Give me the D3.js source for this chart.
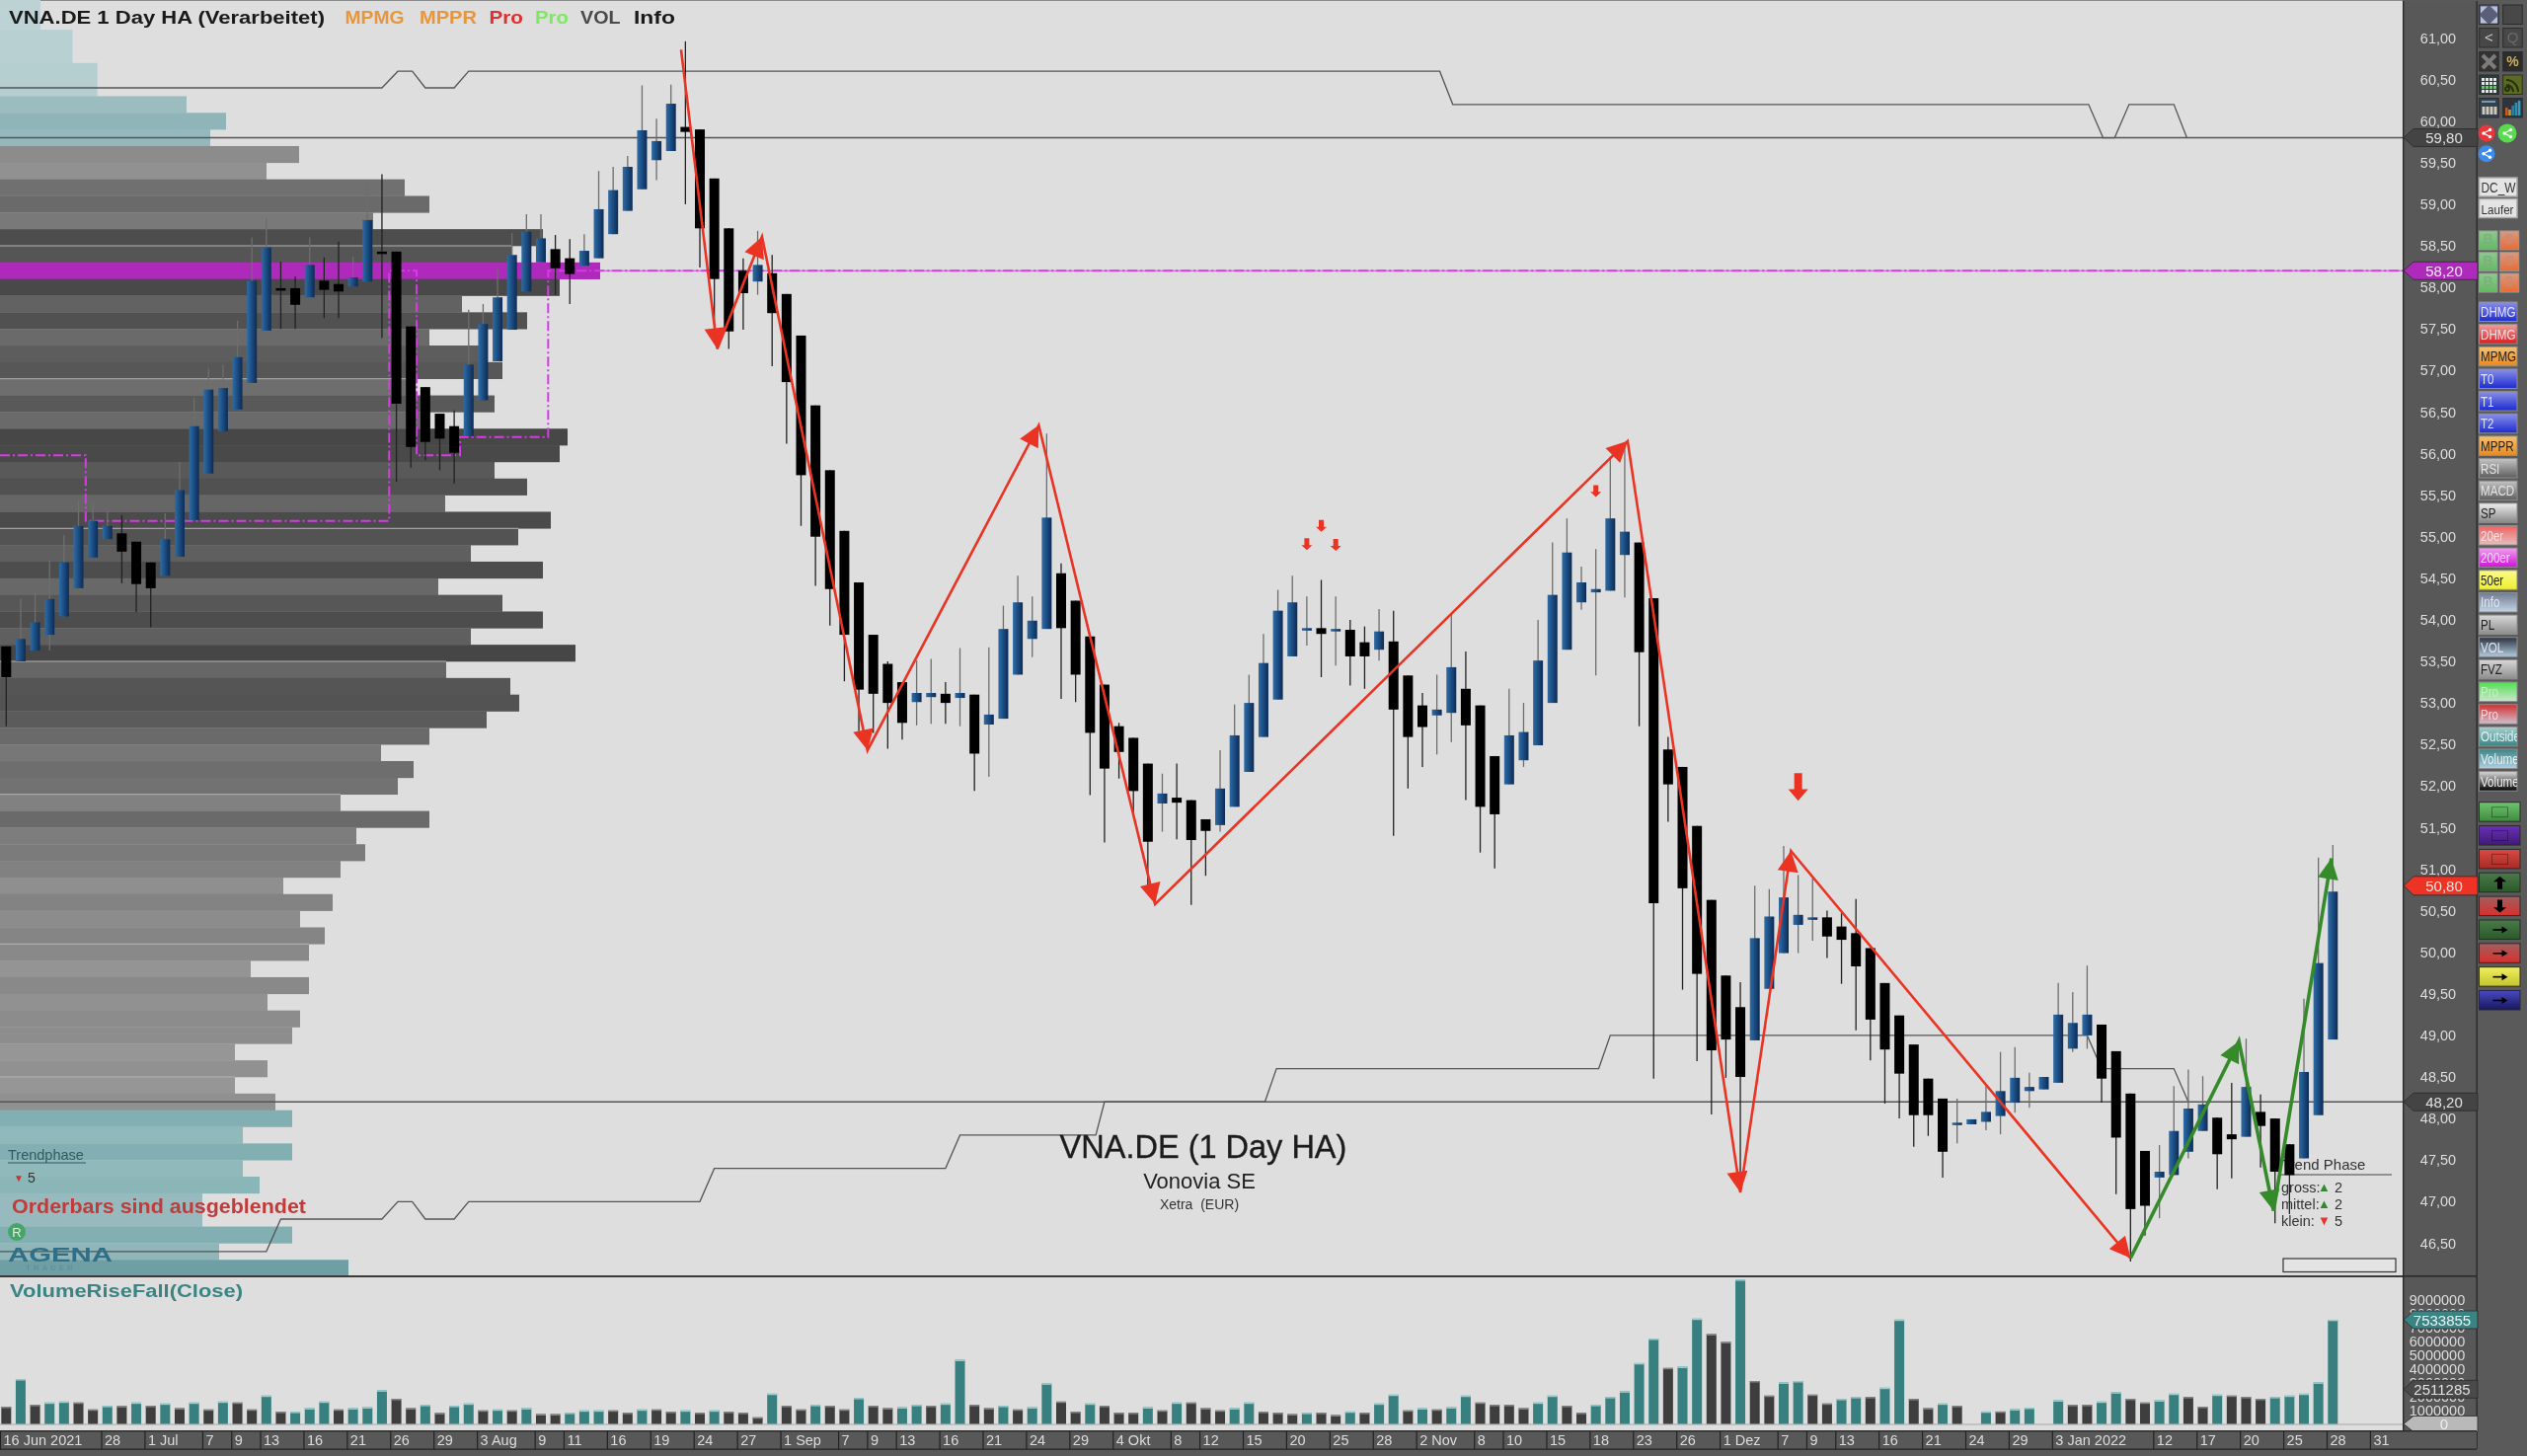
<!DOCTYPE html>
<html><head><meta charset="utf-8">
<script src="https://cdn.jsdelivr.net/npm/d3@7/dist/d3.min.js"></script>
<style>
html,body{margin:0;padding:0;background:#5a5a5a;overflow:hidden}
svg{display:block;filter:blur(0.45px)}
text{font-family:"Liberation Sans",Arial,sans-serif}
</style></head><body><svg id="c" width="2560" height="1475"></svg>
<script>
// ---------- candles (Heikin-Ashi, EUR), one entry per trading day ----------
const opens=[53.68,53.50,53.63,53.82,54.04,54.38,54.75,54.97,55.04,54.94,
54.69,54.53,54.76,55.20,55.76,56.27,56.53,56.85,57.48,57.99,
57.99,57.88,58.08,58.04,58.01,58.07,58.43,58.43,57.53,56.80,
56.48,56.33,56.21,56.64,57.11,57.49,57.95,58.30,58.46,58.35,
58.26,58.35,58.64,58.92,59.18,59.53,59.64,59.93,59.90,59.31,
58.71,58.20,58.07,58.17,57.92,57.42,56.58,55.80,55.07,54.45,
53.82,53.47,53.25,53.01,53.07,53.11,53.06,53.10,52.74,52.81,
53.34,53.77,53.89,54.56,54.23,53.80,53.22,52.72,52.58,52.27,
51.79,51.86,51.83,51.60,51.53,51.75,52.17,52.59,53.04,53.56,
53.88,53.90,53.86,53.88,53.73,53.64,53.74,53.33,52.97,52.85,
52.88,53.17,52.97,52.36,52.02,52.31,52.49,53.00,53.64,54.21,
54.33,54.35,54.78,54.93,54.26,52.44,52.23,51.52,50.63,49.72,
49.34,48.94,49.56,49.99,50.33,50.39,50.42,50.31,50.23,50.05,
49.63,49.24,48.89,48.48,48.24,47.92,47.93,47.96,48.03,48.19,
48.33,48.35,48.43,48.84,49.00,49.13,48.81,48.30,47.61,47.29,
47.32,47.60,47.85,48.01,47.81,47.78,48.08,48.00,47.69,47.52,
48.04,48.95];
const closes=[53.31,53.77,53.97,54.25,54.69,55.13,55.19,55.13,54.82,54.43,
54.38,54.97,55.56,56.33,56.77,56.79,57.16,58.08,58.48,57.97,
57.79,58.27,57.97,57.95,58.12,58.81,58.41,56.60,56.08,56.14,
56.18,56.01,57.07,57.56,57.88,58.39,58.67,58.59,58.23,58.16,
58.44,58.94,59.17,59.45,59.89,59.76,60.21,59.87,58.71,58.10,
57.47,57.93,58.27,57.69,56.86,55.74,55.00,54.37,53.82,53.16,
53.11,53.00,52.76,53.12,53.12,53.00,53.12,52.39,52.86,53.89,
54.21,53.99,55.23,53.90,53.34,52.64,52.21,52.41,51.94,51.33,
51.91,51.80,51.35,51.46,51.97,52.61,53.00,53.48,54.11,54.21,
53.90,53.83,53.89,53.56,53.56,53.86,52.92,52.59,52.71,52.92,
53.43,52.73,51.75,51.66,52.61,52.65,53.51,54.30,54.81,54.45,
54.37,55.22,55.06,53.61,50.59,52.02,50.77,49.74,48.82,48.95,
48.50,50.17,50.43,50.66,50.45,50.42,50.19,50.15,49.83,49.19,
48.83,48.54,48.04,48.04,47.60,47.95,47.99,48.08,48.33,48.49,
48.38,48.50,49.25,49.15,49.25,48.48,47.77,46.91,46.95,47.36,
47.85,48.12,48.17,47.57,47.75,48.38,47.91,47.36,47.32,48.56,
49.87,50.73];
const highs=[53.68,54.25,54.33,54.71,55.02,55.44,55.40,55.31,55.26,54.94,
54.69,55.28,55.90,56.67,57.03,57.07,57.60,58.60,58.83,58.31,
58.13,58.60,58.36,58.55,58.37,59.25,59.36,58.43,57.53,56.80,
56.48,56.52,57.73,57.80,58.24,58.65,58.88,58.88,58.63,58.58,
58.64,59.40,59.45,59.58,60.43,60.03,60.44,60.96,59.90,59.31,
58.71,58.35,58.68,58.39,57.92,57.42,56.58,55.80,55.07,54.45,
53.82,53.50,53.25,53.51,53.53,53.25,53.66,53.10,53.67,54.17,
54.53,54.28,56.24,54.68,54.23,53.80,53.22,52.76,52.58,52.27,
52.15,52.27,51.83,51.60,52.43,52.98,53.34,53.83,54.36,54.53,
54.28,54.48,54.28,54.00,53.92,54.13,54.11,53.33,53.12,53.34,
54.07,53.62,52.97,52.36,53.17,53.00,54.00,54.93,55.22,54.64,
54.85,55.96,56.11,54.93,54.26,52.59,52.23,51.52,50.63,49.72,
49.64,50.80,50.76,51.28,50.93,50.89,50.50,50.47,50.64,50.05,
49.63,49.24,48.89,48.48,48.24,48.24,47.99,48.39,48.80,48.86,
48.55,48.50,49.63,49.52,49.84,49.13,48.81,48.30,47.61,47.68,
48.39,48.59,48.51,48.01,48.43,48.96,48.29,48.00,47.69,49.44,
51.14,51.29];
const lows=[52.72,53.50,53.63,53.63,54.04,54.38,54.75,54.97,54.44,54.09,
53.91,54.53,54.76,55.20,55.76,56.27,56.53,56.85,57.48,57.50,
57.50,57.88,57.63,57.63,58.01,58.07,57.39,55.66,55.83,55.92,
55.80,55.64,56.21,56.64,57.11,57.49,57.95,58.30,57.91,57.80,
58.26,58.35,58.64,58.92,59.18,59.29,59.64,59.00,58.24,57.49,
57.26,57.49,57.91,57.05,56.12,55.13,54.41,53.93,53.26,52.66,
52.64,52.45,52.56,52.73,52.75,52.75,52.72,51.94,52.11,52.81,
53.34,53.55,53.89,53.05,53.01,51.89,51.32,52.09,51.68,50.79,
51.45,51.36,50.57,50.92,51.45,51.75,52.17,52.59,53.04,53.56,
53.69,53.31,53.45,53.21,53.17,53.51,51.40,51.97,52.23,52.38,
52.53,51.83,51.20,51.01,52.02,52.23,52.49,53.00,53.64,54.12,
53.33,54.35,54.27,52.72,48.48,51.57,49.55,48.69,48.05,48.49,
47.11,48.94,49.56,49.99,49.99,50.14,49.93,49.62,49.06,48.70,
48.18,48.00,47.66,47.79,47.29,47.70,47.93,47.86,47.81,48.07,
48.13,48.35,48.43,48.80,48.84,48.19,47.09,46.28,46.59,46.80,
47.32,47.52,47.85,47.15,47.28,47.78,47.41,46.74,46.85,47.52,
48.04,48.95];
// ---------- volume in shares (millions), and rise flag ----------
const volumesM=[1.24,3.24,1.38,1.55,1.62,1.55,1.05,1.31,1.29,1.55,1.31,1.48,1.14,1.55,1.05,1.62,1.55,1.05,2.05,.88,
.88,1.14,1.62,1.05,1.14,1.21,2.43,1.81,1.14,1.38,.79,1.31,1.48,.98,1.05,.98,1.14,.71,.71,.81,
.98,.98,.98,.81,1.05,1.05,.88,.98,.81,.98,.88,.81,.48,2.19,1.31,1.05,1.38,1.31,1.05,1.88,
1.31,1.14,1.21,1.38,1.31,1.48,4.64,1.38,1.14,1.31,1.05,1.21,2.93,1.62,.88,1.48,1.31,.81,.81,1.21,
.98,1.55,1.55,1.14,.98,1.14,1.55,.88,.81,.71,.81,.81,.64,.90,.81,1.48,2.12,.98,1.14,1.05,
1.21,2.05,1.55,1.38,1.38,1.14,1.55,2.05,1.31,.81,1.38,1.95,2.36,4.40,6.17,4.05,4.14,7.62,6.50,5.93,
10.45,3.10,2.05,3.00,3.10,2.12,1.48,1.81,1.95,1.95,2.62,7.55,1.81,1.14,1.48,1.31,0,.90,.90,1.07,
1.17,0,1.71,1.38,1.38,1.62,2.29,1.81,1.55,1.71,2.19,1.95,1.24,2.12,2.05,1.95,1.81,1.95,2.05,2.19,
3.00,7.53855];
const volumeRise=[0,1,0,1,1,0,0,1,0,1,0,1,0,1,0,1,0,0,1,0,
1,1,1,0,1,1,1,0,0,1,0,1,1,0,1,0,1,0,0,1,
1,1,0,0,1,0,0,1,0,1,0,0,0,1,0,0,1,0,0,1,
0,0,1,1,0,1,1,0,0,1,0,1,1,0,0,1,0,0,0,1,
0,1,0,0,0,1,1,0,0,0,1,0,0,1,0,1,1,0,1,0,
1,1,0,0,0,0,1,1,0,0,1,1,1,1,1,0,1,1,0,0,
1,0,0,1,1,0,0,1,1,0,1,1,0,0,1,0,0,1,0,1,
1,0,1,0,0,1,1,0,0,1,1,0,0,1,0,0,0,1,1,1,
1,1];
// ---------- volume profile ----------
const profilePrices=[61.4,61.2,61.0,60.8,60.6,60.4,60.2,60.0,59.8,59.6,59.4,59.2,59.0,58.8,58.6,58.4,58.2,58.0,57.8,57.6,57.4,57.2,57.0,56.8,56.6,56.4,56.2,56.0,55.8,55.6,55.4,55.2,55.0,54.8,54.6,54.4,54.2,54.0,53.8,53.6,53.4,53.2,53.0,52.8,52.6,52.4,52.2,52.0,51.8,51.6,51.4,51.2,51.0,50.8,50.6,50.4,50.2,50.0,49.8,49.6,49.4,49.2,49.0,48.8,48.6,48.4,48.2,48.0,47.8,47.6,47.4,47.2,47.0,46.8,46.6,46.4,46.2];
const profileVolumes=[41,41,73.5,73.5,98.7,98.7,189,229,213,303,270,410,435,378,550,518,608,567,468,534,435,485,509,420,501,435,575,567,501,534,451,558,525,477,550,444,509,550,477,583,452,517,526,493,435,386,419,403,345,435,361,370,345,287,337,304,329,313,254,313,271,304,296,238,271,238,279,296,246,296,246,263,205,205,296,222,353];
const profileSeams=[58.5,56.9,55.1,53.5,51.9,50.1,48.5];
const valueAreaHigh=59.7, valueAreaLow=48.1, pointOfControl=58.2;
// ---------- levels ----------
const upperBandBars=[-0.43,26,27.1,28.1,29,31,32,99.2,100.1,144.1,145.1,145.9,146.9,150,150.9];
const upperBandPrices=[60.4,60.4,60.6,60.6,60.4,60.4,60.6,60.6,60.2,60.2,59.8,59.8,60.2,60.2,59.8];
const lowerBandBars=[-0.43,18,19,26,27.1,28.1,29,31,32,48,49,65,66,75.4,76,87.1,87.9,110.2,111,144,145,150,151];
const lowerBandPrices=[46.4,46.4,46.79,46.79,47,47,46.79,46.79,47,47,47.4,47.4,47.8,47.8,48.2,48.2,48.6,48.6,49,49,48.6,48.6,48.2];
const magentaBars=[-0.43,5.5,5.5,26.5,26.5,28.4,28.4,31.4,31.4,37.5,37.5,166];
const magentaPrices=[55.98,55.98,55.19,55.19,58.2,58.2,55.98,55.98,56.2,56.2,58.2,58.2];
const levelLines=[59.8,48.2];
// ---------- zigzag ----------
const redZigBars=[46.7,49.2,52.3,59.6,71.45,79.5,112.2,120,123.5,147];
const redZigPrices=[60.86,57.26,58.61,52.43,56.34,50.58,56.15,47.11,51.22,46.32];
const greenZigBars=[147,154.5,156.9,160.9];
const greenZigPrices=[46.32,48.93,46.89,51.13];
const smallSignalBars=[90,91,92,110], smallSignalPrices=[54.91,55.13,54.90,55.55];
const bigSignalBars=[124], bigSignalPrices=[51.99];
// ---------- axes ----------
const priceTicks=[61,60.5,60,59.5,59,58.5,58,57.5,57,56.5,56,55.5,55,54.5,54,53.5,53,52.5,52,51.5,51,50.5,50,49.5,49,48.5,48,47.5,47,46.5];
const volumeTicks=[9e6,8e6,7e6,6e6,5e6,4e6,3e6,2e6,1e6];
const timeTickBars=[0,7,10,14,16,18,21,24,27,30,33,37,39,42,45,48,51,54,58,60,62,65,68,71,74,77,81,83,86,89,92,95,98,102,104,107,110,113,116,119,123,125,127,130,133,136,139,142,149,152,155,158,161,164];
const timeTickLabels=["16 Jun 2021","28","1 Jul","7","9","13","16","21","26","29","3 Aug","9","11","16","19","24","27","1 Sep","7","9","13","16","21","24","29","4 Okt","8","12","15","20","25","28","2 Nov","8","10","15","18","23","26","1 Dez","7","9","13","16","21","24","29","3 Jan 2022","12","17","20","25","28","31"];
const buttonLabels=["DHMG","DHMG","MPMG","T0","T1","T2","MPPR","RSI","MACD","SP","20er","200er","50er","Info","PL","VOL","FVZ","Pro","Pro","Outside","Volume","Volume"];

// ---------- layout ----------
const W=2560,H=1475,panelR=2434,axisR=2509,mainB=1292,volT=1294,volB=1450,timeB=1468;
const x=d3.scaleLinear([0,161],[6.3,2363.3]);
const xTick=d3.scaleLinear([0,161],[0,2357]);
const y=d3.scaleLinear([61,46.5],[38.5,1259.4]);
const v=d3.scaleLinear([0,9e6],[1442.5,1316.5]);
const pw=d3.scaleLinear([0,608],[0,608]);
const svg=d3.select("#c");
const defs=svg.append("defs");
function grad(id,stops,horizontal){
  const g=defs.append("linearGradient").attr("id",id).attr("x1",0).attr("y1",0).attr("x2",horizontal?1:0).attr("y2",horizontal?0:1);
  stops.forEach((c,i)=>g.append("stop").attr("offset",i/(stops.length-1)).attr("stop-color",c));
  return `url(#${id})`;
}
const blueBody=grad("blue",["#2f6ca4","#1a4c82","#0e2a52"],true);
defs.append("clipPath").attr("id","main").append("rect").attr("x",0).attr("y",0).attr("width",panelR).attr("height",mainB);

svg.append("rect").attr("width",W).attr("height",H).attr("fill","#5a5a5a");
svg.append("rect").attr("x",0).attr("y",1).attr("width",panelR).attr("height",volB-1).attr("fill","#dedede");
svg.append("rect").attr("width",panelR).attr("height",1).attr("fill","#8a8a8a");

const main=svg.append("g").attr("clip-path","url(#main)");
// profile
const idx=profilePrices.map((_,i)=>i);
const rowH=Math.abs(y(0.2)-y(0));
const teal=d3.scaleLinear([41,98,229,246,296,353],["#bcd2d4","#b5cfd1","#8fb5b8","#90b9bb","#82b0b2","#6e9fa5"]);
const gray=d3.scaleLinear([234,303,435,550,608],["#979797","#8c8c8c","#6a6a6a","#4d4d4d","#404040"]);
main.append("g").selectAll("rect").data(idx).join("rect")
 .attr("x",0).attr("y",i=>y(profilePrices[i])-rowH/2).attr("height",rowH+.3)
 .attr("width",i=>pw(profileVolumes[i]))
 .attr("fill",i=>{const p=profilePrices[i];
   if(p===pointOfControl) return "#ae2abb";
   return (p>valueAreaHigh||p<valueAreaLow)?teal(profileVolumes[i]):gray(profileVolumes[i]);});
main.append("g").selectAll("line").data(profileSeams).join("line")
 .attr("x1",0).attr("y1",d=>y(d)).attr("y2",d=>y(d))
 .attr("x2",d=>{let k=d3.bisectLeft(profilePrices.map(p=>-p),-(d-0.1));return pw(profileVolumes[k]);})
 .attr("stroke","#b4b4b4").attr("stroke-width",1);
// level & band lines
const ln=(bars,prices)=>d3.line().x(i=>x(bars[i])).y(i=>y(prices[i]))(bars.map((_,i)=>i));
main.append("path").attr("d",ln(upperBandBars,upperBandPrices)).attr("fill","none").attr("stroke","#555").attr("stroke-width",1.3);
main.append("path").attr("d",ln(lowerBandBars,lowerBandPrices)).attr("fill","none").attr("stroke","#555").attr("stroke-width",1.3);
main.selectAll("line.lvl").data(levelLines).join("line").attr("class","lvl").attr("x1",0).attr("x2",panelR)
 .attr("y1",d=>y(d)).attr("y2",d=>y(d)).attr("stroke","#555").attr("stroke-width",1.4);
main.append("line").attr("x1",608).attr("x2",panelR).attr("y1",y(58.2)).attr("y2",y(58.2)).attr("stroke","#c44bd4").attr("stroke-width",1);
main.append("path").attr("d",ln(magentaBars,magentaPrices)).attr("fill","none").attr("stroke","#d83ae8").attr("stroke-width",2).attr("stroke-dasharray","10 3 2 3");

// texts under candles
const t=(s,px,py,size,fill,extra={})=>{const e=svg.append("text").attr("x",px).attr("y",py).attr("font-size",size).attr("fill",fill).text(s);
 Object.entries(extra).forEach(([k,val])=>e.attr(k,val));return e;};
const T=(s,px,py,size,fill,extra={})=>{const e=main.append("text").attr("x",px).attr("y",py).attr("font-size",size).attr("fill",fill).text(s);
 Object.entries(extra).forEach(([k,val])=>e.attr(k,val));return e;};
T("VNA.DE (1 Day HA)",1219,1173,32.5,"#1c1c1c",{"text-anchor":"middle","stroke":"#1c1c1c","stroke-width":.35});
T("Vonovia SE",1215,1204,22,"#222",{"text-anchor":"middle"});
T("Xetra  (EUR)",1215,1225,14,"#333",{"text-anchor":"middle","xml:space":"preserve"});
T("Trend Phase",2311,1185,15,"#333");
main.append("line").attr("x1",2311).attr("x2",2423).attr("y1",1190).attr("y2",1190).attr("stroke","#444").attr("stroke-width",1.2);
T("gross:",2311,1208,14.5,"#333");T("\u25B2",2348,1207,13,"#2f8a2f");T("2",2365,1208,14.5,"#333");
T("mittel:",2311,1225,14.5,"#333");T("\u25B2",2348,1224,13,"#2f8a2f");T("2",2365,1225,14.5,"#333");
T("klein:",2311,1242,14.5,"#333");T("\u25BC",2348,1241,13,"#e8322a");T("5",2365,1242,14.5,"#333");
main.append("rect").attr("x",2313).attr("y",1275).attr("width",114).attr("height",13.5).attr("fill","#e4e4e4").attr("stroke","#333").attr("stroke-width",1.2);

// left overlay
T("Trendphase",8,1174.5,14.5,"#2f5c5e");
main.append("line").attr("x1",8).attr("x2",87).attr("y1",1178).attr("y2",1178).attr("stroke","#2f5c5e");
T("\u25BC",14,1197,10,"#c8352f");T("5",28,1198,14,"#333");
const sansB={"font-family":"DejaVu Sans","font-weight":700,"lengthAdjust":"spacingAndGlyphs"};
T("Orderbars sind ausgeblendet",12,1229,20,"#c23a3a",{...sansB,"textLength":298});
main.append("circle").attr("cx",17).attr("cy",1248).attr("r",9).attr("fill","#47a56a");
T("R",17,1253,13,"#d9f0de",{"text-anchor":"middle"});
T("AGENA",8,1278,21,"#2f6f88",{"font-weight":700,"textLength":106,"lengthAdjust":"spacingAndGlyphs"});
T("TRADER",26,1287,8,"#5b8a96",{"letter-spacing":"3px"});

// candles
const bars=svg.append("g").attr("clip-path","url(#main)");
const days=opens.map((_,i)=>i);
const up=i=>closes[i]>=opens[i];
bars.append("g").selectAll("line").data(days).join("line")
 .attr("x1",i=>x(i)).attr("x2",i=>x(i)).attr("y1",i=>y(highs[i])).attr("y2",i=>y(lows[i]))
 .attr("stroke",i=>up(i)?"#6e6e6e":"#222").attr("stroke-width",1.3);
bars.append("g").selectAll("rect").data(days).join("rect")
 .attr("x",i=>x(i)-5).attr("width",10)
 .attr("y",i=>Math.min(y(opens[i]),y(closes[i])))
 .attr("height",i=>Math.max(2.5,Math.abs(y(opens[i])-y(closes[i]))))
 .attr("fill",i=>up(i)?blueBody:"#000");

// zigzag with arrow heads
function zig(zb,zp,col,sw,len,half){
  const pts=zb.map((b,i)=>[x(b),y(zp[i])]);
  const g=svg.append("g").attr("clip-path","url(#main)");
  g.append("path").attr("d",d3.line()(pts)).attr("fill","none").attr("stroke",col).attr("stroke-width",sw);
  g.selectAll("polygon").data(d3.range(1,pts.length)).join("polygon").attr("fill",col).attr("points",k=>{
    const [x0,y0]=pts[k-1],[x1,y1]=pts[k];const L=Math.hypot(x1-x0,y1-y0),ux=(x1-x0)/L,uy=(y1-y0)/L;
    const bx=x1-ux*len,by=y1-uy*len;
    return [[x1,y1],[bx-uy*half,by+ux*half],[bx+uy*half,by-ux*half]].join(" ");});
}
zig(redZigBars,redZigPrices,"#ea3323",2.6,21,10.5);
zig(greenZigBars,greenZigPrices,"#358a2a",3.6,21,10.5);
// signal arrows
function downArrow(cx,cy,w,h,stem){const hh=h*.42;return [[cx-stem/2,cy-h/2],[cx+stem/2,cy-h/2],[cx+stem/2,cy+h/2-hh],[cx+w/2,cy+h/2-hh],[cx,cy+h/2],[cx-w/2,cy+h/2-hh],[cx-stem/2,cy+h/2-hh]].join(" ");}
svg.append("g").selectAll("polygon").data(smallSignalBars.map((_,i)=>i)).join("polygon").attr("fill","#ea3323")
 .attr("points",i=>downArrow(x(smallSignalBars[i]),y(smallSignalPrices[i]),11,12,5));
svg.append("g").selectAll("polygon").data(bigSignalBars.map((_,i)=>i)).join("polygon").attr("fill","#ea3323")
 .attr("points",i=>downArrow(x(bigSignalBars[i]),y(bigSignalPrices[i]),20,28,8));

// title strip
t("VNA.DE 1 Day HA (Verarbeitet)",9,23.5,18,"#1a1a1a",{...sansB,"textLength":320});
[["MPMG",349.5,60,"#e8963c"],["MPPR",425,58,"#e8963c"],["Pro",495.5,34.5,"#e03030"],["Pro",542,34,"#7ee860"],["VOL",588,40.5,"#4a4a4a"],["Info",642,42,"#1a1a1a"]]
 .forEach(d=>t(d[0],d[1],23.5,18,d[3],{...sansB,"textLength":d[2]}));

// volume panel
svg.append("rect").attr("x",0).attr("y",mainB).attr("width",axisR).attr("height",2).attr("fill","#3a3a3a");
t("VolumeRiseFall(Close)",10,1314,18,"#3a8484",{...sansB,"textLength":236});
svg.append("rect").attr("x",0).attr("y",1442).attr("width",panelR).attr("height",2).attr("fill","#c2c2c2");
svg.append("g").selectAll("rect").data(days.filter(i=>volumesM[i]>0)).join("rect")
 .attr("x",i=>x(i)-5).attr("width",10).attr("y",i=>v(volumesM[i]*1e6)).attr("height",i=>v(0)-v(volumesM[i]*1e6))
 .attr("fill",i=>volumeRise[i]?"#37807f":"#3e3e3e");
svg.append("g").selectAll("rect").data(days.filter(i=>volumesM[i]>0)).join("rect")
 .attr("x",i=>x(i)-5).attr("width",10).attr("y",i=>v(volumesM[i]*1e6)).attr("height",1.4)
 .attr("fill",i=>volumeRise[i]?"#9fd0d0":"#8a8a8a");

// axis column
svg.append("rect").attr("x",panelR).attr("y",1).attr("width",axisR-panelR).attr("height",timeB-1).attr("fill","#585858");
svg.append("rect").attr("x",panelR).attr("y",1).attr("width",1.4).attr("height",volB).attr("fill","#2a2a2a");
svg.append("rect").attr("x",axisR-0.5).attr("y",1).attr("width",1.4).attr("height",timeB-1).attr("fill","#2a2a2a");
svg.append("rect").attr("x",panelR).attr("y",mainB).attr("width",axisR-panelR).attr("height",1.6).attr("fill","#2a2a2a");
const styleAxis=g=>{g.select(".domain").remove();g.selectAll("line").remove();g.selectAll("text").attr("fill","#dcdcdc").attr("font-size",14.5).attr("font-family","Liberation Sans").attr("text-anchor","middle");};
svg.append("g").attr("transform",`translate(2470,0)`).call(d3.axisRight(y).tickValues(priceTicks).tickSize(0).tickPadding(0).tickFormat(d=>d.toFixed(2).replace(".",","))).call(styleAxis);
svg.append("g").attr("transform",`translate(2469,0)`).call(d3.axisRight(v).tickValues(volumeTicks).tickSize(0).tickPadding(0).tickFormat(d3.format("d"))).call(styleAxis);
// tags
function tag(py,h,fill,label,cx,textFill){
  const l=panelR+1,r=axisR+1,tp=l+10;
  svg.append("polygon").attr("points",[[l,py],[tp,py-h/2],[r,py-h/2],[r,py+h/2],[tp,py+h/2]].join(" ")).attr("fill",fill).attr("stroke","#2a2a2a").attr("stroke-width",.8);
  t(label,cx,py+5.5,15,textFill,{"text-anchor":"middle"});
}
tag(y(59.8),18,"#444","59,80",2476,"#e0e0e0");
tag(y(58.2),18,"#ae2abb","58,20",2476,"#f3e6f5");
tag(y(50.8),19,"#ee3224","50,80",2476,"#f6e2dd");
tag(y(48.2),18,"#444","48,20",2476,"#e0e0e0");
tag(v(7533855),18,"#3a8484","7533855",2474,"#e8f2f2");
tag(v(2511285),18,"#4a4a4a","2511285",2474,"#e0e0e0");
tag(v(0),16,"#b9b9b9","0",2476,"#eee");

// time axis
svg.append("rect").attr("x",0).attr("y",volB).attr("width",axisR).attr("height",timeB-volB).attr("fill","#585858");
svg.append("rect").attr("x",0).attr("y",volB-1).attr("width",axisR).attr("height",1.4).attr("fill","#2a2a2a");
svg.append("rect").attr("x",0).attr("y",timeB-.5).attr("width",axisR).attr("height",1.4).attr("fill","#2a2a2a");
svg.append("g").attr("transform",`translate(0,${volB})`)
 .call(d3.axisBottom(xTick).tickValues(timeTickBars).tickSize(18).tickSizeOuter(0).tickFormat(d=>timeTickLabels[timeTickBars.indexOf(d)]))
 .call(g=>{g.select(".domain").remove();g.selectAll("line").attr("stroke","#222").attr("stroke-width",1.2);
   g.selectAll("text").attr("fill","#dcdcdc").attr("font-size",14.5).attr("font-family","Liberation Sans").attr("text-anchor","start").attr("x",3).attr("y",14).attr("dy",0);});

// button column
const B=svg.append("g");
const iconRows=[5,28.5,52.5,76,99.5];
const iconFills=[["#5a5f78","#484848"],["#474747","#484848"],["#333333","#2c2c2c"],["#2f3a3a","#5b6a22"],["#34414e","#2f343c"]];
iconRows.forEach((yy,r)=>{iconFills[r].forEach((f,c)=>{B.append("rect").attr("x",c?2535.7:2511.7).attr("y",yy).attr("width",19.5).attr("height",19.5).attr("fill",f).attr("stroke","#2c2c2c");});});
// icon details
[[0,0,1,1],[1,0,-1,1],[0,1,1,-1],[1,1,-1,-1]].forEach(d=>{const ox=2513+d[0]*17,oy=6.5+d[1]*17;
 B.append("polygon").attr("points",[[ox,oy],[ox+d[2]*7,oy],[ox,oy+d[3]*7]].join(" ")).attr("fill","#b9bfe0");});
t("<",2521.5,43,15,"#c8c8c8",{"text-anchor":"middle"});t("Q",2545.5,43,15,"#6a6a6a",{"text-anchor":"middle"});
B.append("path").attr("d","M2515 56L2528 69M2528 56L2515 69").attr("stroke","#7c7c7c").attr("stroke-width",4);
t("%",2545.5,67,14,"#c8b060",{"text-anchor":"middle","font-weight":700});
d3.range(4).forEach(c=>d3.range(4).forEach(r=>B.append("rect").attr("x",2514+c*4).attr("y",79+r*4).attr("width",3).attr("height",3).attr("fill",r===2?"#67c667":"#e4e4e4")));
B.append("path").attr("d","M2540 92a2 2 0 1 1 .01 0M2539 86a7 7 0 0 1 7 7M2539 81a12 12 0 0 1 12 12").attr("fill","none").attr("stroke","#26300f").attr("stroke-width",2);
d3.range(4).forEach(c=>B.append("rect").attr("x",2514.5+c*4).attr("y",108).attr("width",3).attr("height",8).attr("fill","#d0c8b8"));
B.append("rect").attr("x",2514).attr("y",102).attr("width",14).attr("height",2).attr("fill","#7f97a8");
[[0,8,"#c85a20"],[1,6,"#c89a20"],[2,10,"#2f7fa0"],[3,13,"#2f8fb8"],[4,15,"#2fa0b8"]].forEach(d=>B.append("rect").attr("x",2538+d[0]*3.2).attr("y",117-d[1]).attr("width",2.6).attr("height",d[1]).attr("fill",d[2]));
[[2519,135,8.5,"#e8363a"],[2540,135,9.5,"#58dc4e"],[2519,155.7,8.5,"#3b8cec"]].forEach(c=>{
 B.append("circle").attr("cx",c[0]).attr("cy",c[1]).attr("r",c[2]).attr("fill",c[3]);
 B.append("path").attr("d",`M${c[0]+3.5} ${c[1]-3.5}L${c[0]-3} ${c[1]}L${c[0]+3.5} ${c[1]+3.5}`).attr("fill","none").attr("stroke","#fff").attr("stroke-width",1.2);
 [[3.5,-3.5],[-3,0],[3.5,3.5]].forEach(o=>B.append("circle").attr("cx",c[0]+o[0]).attr("cy",c[1]+o[1]).attr("r",1.7).attr("fill","#fff"));
});
[["DC_W",180],["Laufer",201.5]].forEach(d=>{B.append("rect").attr("x",2511.5).attr("y",d[1]).attr("width",38.5).attr("height",19).attr("fill","#e4e4e4").attr("stroke","#aaa").attr("stroke-width",1.5);
 t(d[0],2513.5,d[1]+15,d[0]==="DC_W"?14:12.5,"#333",{"textLength":d[0]==="DC_W"?35:33,"lengthAdjust":"spacingAndGlyphs"});});
const gG=grad("gB",["#8fc98f","#62b962"]),gS=grad("gS",["#d99a80","#ea6a30"]);
[234,255.7,277].forEach(yy=>{
 B.append("rect").attr("x",2511.5).attr("y",yy).attr("width",18.5).attr("height",19).attr("fill",gG).attr("stroke","#999");
 B.append("rect").attr("x",2532.7).attr("y",yy).attr("width",19).attr("height",19).attr("fill",gS).attr("stroke","#999");
 t("B",2520.5,yy+13,14,"#7fae7f",{"text-anchor":"middle","font-weight":700});
 t("S",2542,yy+13,14,"#c98a78",{"text-anchor":"middle","font-weight":700});
});
const btnStyles=[["#8a90e8","#1c2ad0","#e6e6ff"],["#f0a0a0","#d81c20","#f4dede"],["#f6c070","#e88a20","#222"],["#8a90e8","#1c2ad0","#dfe4ff"],["#8a90e8","#1c2ad0","#dfe4ff"],["#8a90e8","#1c2ad0","#dfe4ff"],["#f6c070","#e88a20","#222"],["#c4c4c4","#5e5e5e","#e4e4e4"],["#c4c4c4","#5e5e5e","#e4e4e4"],["#eeeeee","#888888","#222"],["#f06060","#e4c0c0","#f6e0e0"],["#f0a0f0","#d010d8","#f6d8f6"],["#fbfb8a","#eeee30","#222"],["#707c92","#c4d4e4","#dfe6f0"],["#d8d8d8","#8c8c8c","#222"],["#2a3240","#b4cce0","#dfe6f0"],["#d8d8d8","#8c8c8c","#222"],["#50e050","#d0e4d0","#c4f0c4"],["#d03030","#d0c0d0","#f6d8d8"],["#a8d0d0","#3a8484","#dff0f0"],["#3a8484","#b4d0e4","#e4f4f4"],["#dcdcdc","#000000","#f0f0f0"]];
buttonLabels.forEach((lab,i)=>{
  const yy=306+i*22.65, f=grad("b"+i,btnStyles[i].slice(0,2));
  B.append("rect").attr("x",2511.5).attr("y",yy).attr("width",38.5).attr("height",19.5).attr("fill",f).attr("stroke","#8f8f8f");
  const clip=defs.append("clipPath").attr("id","bc"+i);clip.append("rect").attr("x",2511.5).attr("y",yy).attr("width",38.5).attr("height",19.5);
  const e=t(lab,2513,yy+15,14.5,btnStyles[i][2],{"clip-path":`url(#bc${i})`});
  e.attr("textLength",e.node().getComputedTextLength()*.8).attr("lengthAdjust","spacingAndGlyphs");
});
const sq=[["#6dc56d","#3f8a3f"],["#6a30b8","#3f1a78"],["#d84a44","#a82a26"],["#4a7a4a","#2a5a2a"],["#a06060","#d8302c"],["#4a7a4a","#2a5a2a"],["#a06060","#d8302c"],["#eeee60","#c4c430"],["#4a4ac0","#161660"]];
sq.forEach((c,i)=>{
  const yy=812.7+i*23.85,f=grad("sq"+i,c),cy=yy+10;
  B.append("rect").attr("x",2511.5).attr("y",yy).attr("width",41.5).attr("height",19.5).attr("fill",f).attr("stroke","#2a2a2a");
  const cx=2532.5;
  if(i<3) B.append("rect").attr("x",cx-8).attr("y",cy-5).attr("width",16).attr("height",10).attr("fill","none").attr("stroke","rgba(0,0,0,.35)");
  else if(i===3) B.append("polygon").attr("fill","#000").attr("points",downArrow(0,0,13,13,5)).attr("transform",`translate(${cx},${cy}) rotate(180)`);
  else if(i===4) B.append("polygon").attr("fill","#000").attr("points",downArrow(0,0,13,13,5)).attr("transform",`translate(${cx},${cy})`);
  else {B.append("line").attr("x1",cx-7).attr("x2",cx+5).attr("y1",cy).attr("y2",cy).attr("stroke","#000").attr("stroke-width",1.6);
        B.append("polygon").attr("points",[[cx+2,cy-3.5],[cx+8,cy],[cx+2,cy+3.5]].join(" ")).attr("fill","#000");}
});
</script></body></html>
